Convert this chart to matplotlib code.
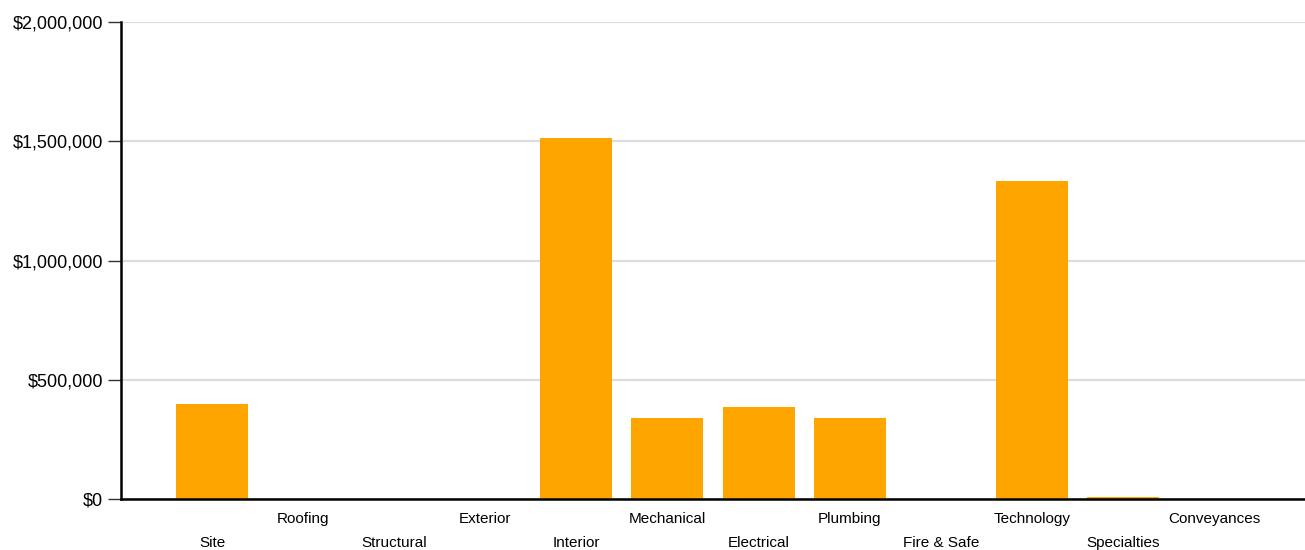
import matplotlib
matplotlib.use("Agg")
import matplotlib.pyplot as plt
import matplotlib.ticker as ticker

CATEGORIES = ["Site", "Roofing", "Structural", "Exterior", "Interior", "Mechanical",
              "Electrical", "Plumbing", "Fire & Safe", "Technology", "Specialties", "Conveyances"]
COSTS = [400000, 0, 0, 0, 1515000, 340000, 387000, 340000, 0, 1333000, 8000, 0]
Y_TICKS = [0, 500000, 1000000, 1500000, 2000000]

plt.rcParams["font.family"] = ["Liberation Sans", "DejaVu Sans"]

fig = plt.figure(figsize=(13.05, 5.5), dpi=100)
ax = fig.add_axes([121 / 1305, 1 - 499 / 550, 1 - 121 / 1305, (499 - 22) / 550])

x = list(range(1, len(CATEGORIES) + 1))
ax.bar(x, COSTS, width=0.79, color="#FFA500", zorder=3)

ax.set_xlim(0, len(CATEGORIES) + 1)
ax.set_ylim(0, 2000000)
ax.set_yticks(Y_TICKS)
ax.yaxis.set_major_formatter(ticker.FuncFormatter(lambda v, _: f"${v:,.0f}"))
ax.grid(axis="y", color="#dddddd", linewidth=1.6, zorder=0)
ax.set_axisbelow(True)

# staggered category labels, two rows
ax.set_xticks(x)
ax.set_xticklabels(CATEGORIES, fontsize=11)
ax.tick_params(axis="x", length=0)
for i, t in enumerate(ax.xaxis.get_major_ticks()):
    t.set_pad(26.5 if i % 2 == 0 else 9.5)

ax.tick_params(axis="y", length=9.5, width=1, color="#333333", pad=3.5, labelsize=13)

for s in ("top", "right"):
    ax.spines[s].set_visible(False)
for s in ("left", "bottom"):
    ax.spines[s].set_linewidth(1.8)
    ax.spines[s].set_color("black")
    ax.spines[s].set_zorder(4)

fig.savefig("out.png", dpi=100, facecolor="white")
